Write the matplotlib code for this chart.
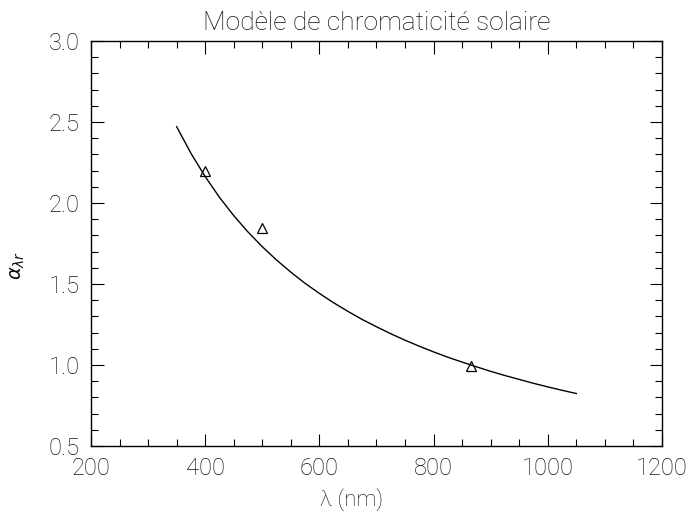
import matplotlib.pyplot as plt

# model curve
lam_model = [350, 375, 400, 425, 450, 475, 500, 525, 550, 575, 600, 625, 650, 675, 700,
             725, 750, 775, 800, 825, 850, 875, 900, 925, 950, 975, 1000, 1025, 1050]
alpha_model = [2.471, 2.307, 2.163, 2.035, 1.922, 1.821, 1.730, 1.648, 1.573, 1.504, 1.442,
               1.384, 1.331, 1.281, 1.236, 1.193, 1.153, 1.116, 1.081, 1.048, 1.018, 0.989,
               0.961, 0.935, 0.911, 0.887, 0.865, 0.844, 0.824]

# measured points
lam_obs   = [400, 500, 865]
alpha_obs = [2.20, 1.845, 0.995]

xticks = [200, 400, 600, 800, 1000, 1200]
yticks = [0.5, 1.0, 1.5, 2.0, 2.5, 3.0]

plt.rcParams["font.family"] = ["Roboto", "DejaVu Sans"]
plt.rcParams["font.weight"] = "light"
plt.rcParams["axes.titleweight"] = "light"
plt.rcParams["axes.labelweight"] = "light"
plt.rcParams["mathtext.fontset"] = "dejavusans"
fig = plt.figure(figsize=(6.91, 5.17), dpi=100)
ax = fig.add_axes([0.1317, 0.1373, 0.8263, 0.7834])

ax.plot(lam_model, alpha_model, c="black", lw=1.0)
ax.plot(lam_obs, alpha_obs, ls="none", marker="^", ms=7.5, mfc="none", mec="black", mew=0.9)

ax.set_xlim(200, 1200)
ax.set_ylim(0.5, 3.0)
ax.set_xticks(xticks)
ax.set_yticks(yticks)
ax.set_yticklabels([f"{v:.1f}" for v in yticks])
ax.set_xticks(range(250, 1200, 50), minor=True)
ax.set_yticks([0.5 + 0.1 * i for i in range(26)], minor=True)
ax.tick_params(which="both", direction="in", top=True, right=True, width=0.8,
               labelsize=17, labelcolor="#111111", pad=8)
ax.tick_params(which="major", length=9)
ax.tick_params(which="minor", length=5)
for s in ax.spines.values():
    s.set_linewidth(1.0)

ax.set_xlabel("λ (nm)", fontsize=16, color="#111111")
ax.xaxis.set_label_coords(0.457, -0.105)
ax.set_ylabel(r"$\alpha_{\lambda r}$", fontsize=14, color="#111111")
ax.yaxis.set_label_coords(-0.112, 0.447)
ax.set_title("Modèle de chromaticité solaire", fontsize=19, color="#111111", pad=8)

fig.savefig("out.png", dpi=100)
